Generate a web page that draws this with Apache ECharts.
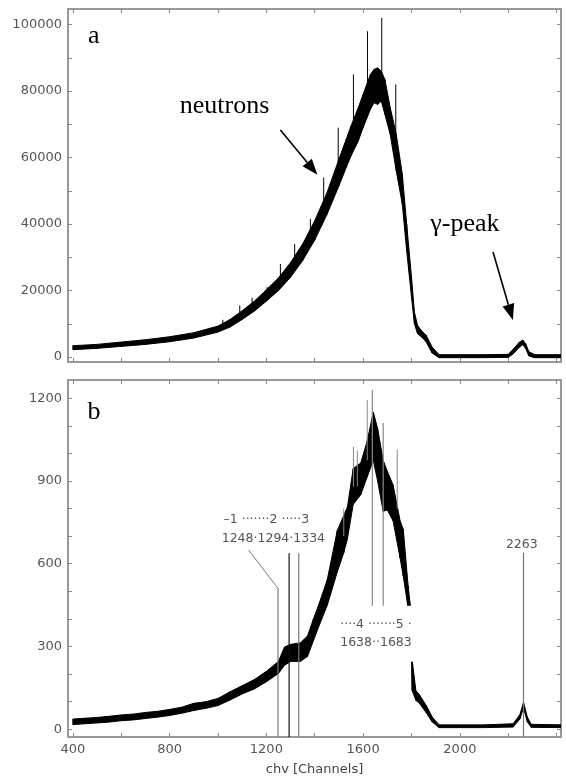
<!DOCTYPE html>
<html>
<head>
<meta charset="utf-8">
<script src="https://cdn.jsdelivr.net/npm/echarts@6/dist/echarts.min.js"></script>
<style>
html,body{margin:0;padding:0;background:#fff;}
#chart{width:566px;height:778px;}
</style>
</head>
<body>
<div id="chart"></div>
<script>
// channel axis (shared by both panels)
var xMin = 380, xMax = 2418;
var xTicks = [400,600,800,1000,1200,1400,1600,1800,2000,2200,2400];
var xLabels = [400,800,1200,1600,2000];

// panel a: counts, band read as lower / upper edge of the trace
var chA = [400,500,600,700,800,900,1000,1050,1100,1150,1200,1250,1300,1350,1400,1450,1500,1530,1550,1580,1600,1630,1645,1660,1675,1690,1712,1737,1762,1780,1800,1812,1825,1845,1860,1885,1914,2000,2100,2200,2220,2245,2260,2272,2285,2310,2418];
var loA = [2200,2600,3200,3800,4600,5700,7500,9000,11300,13800,16800,20000,24000,29000,35200,42800,51500,57000,60500,65000,69000,74500,76500,76000,77000,73000,67000,56000,46000,32000,18000,10000,7000,5800,4600,1200,-200,-200,-200,-100,900,2900,3700,2600,300,-200,-200];
var hiA = [3400,3800,4500,5200,6100,7300,9300,11300,13900,16800,20200,23800,28400,34000,41000,49300,59500,65500,69500,75000,79000,85000,86500,87000,86000,83500,75000,67000,55000,40000,24000,13500,9500,7600,6600,3000,700,700,700,800,2300,4400,5100,4000,1600,700,700];
// single-channel spikes: [channel, from, to]
var spikeA = [[1020,8500,11200],[1090,12500,15500],[1141,15500,17800],[1203,18500,21000],[1258,22500,28000],[1317,28000,34000],[1382,35000,41500],[1437,45000,54000],[1497,55000,69000],[1560,66000,85000],[1618,76000,98000],[1677,81000,102000],[1735,61000,82000]];
var yMinA = -1500, yMaxA = 104700;
var yTicksA = [0,10000,20000,30000,40000,50000,60000,70000,80000,90000,100000];
var yLabelsA = [0,20000,40000,60000,80000,100000];

// panel b: counts
var chB = [400,450,500,550,600,650,700,750,800,850,900,950,1000,1050,1100,1150,1200,1250,1275,1300,1340,1370,1394,1420,1452,1493,1520,1535,1559,1590,1617,1642,1660,1683,1700,1724,1753,1766,1786,1795,1803,1818,1832,1861,1886,1914,2000,2100,2220,2248,2263,2279,2295,2418];
var loB = [17,20,23,26,31,34,39,44,50,58,68,76,86,106,128,146,172,202,232,246,246,264,320,380,450,570,640,690,815,850,915,975,900,790,795,755,620,555,440,420,140,105,95,60,26,6,6,6,8,37,78,26,7,6];
var hiB = [37,40,43,47,52,55,61,65,72,80,94,100,112,136,158,180,210,246,298,308,313,338,398,460,543,720,775,805,945,965,1045,1150,1090,975,935,885,755,725,520,450,250,140,126,86,44,16,16,16,20,53,98,44,18,16];
var spikeB = [[1520,700,800],[1560,880,1024],[1576,880,1010],[1617,975,1194],[1741,800,1013]];
var yMinB = -28, yMaxB = 1266;
var yTicksB = [0,100,200,300,400,500,600,700,800,900,1000,1100,1200];
var yLabelsB = [0,300,600,900,1200];

// channel markers in panel b
var markCh = [1248,1294,1334,1638,1683,2263];
var markTop = [511,638,638,1230,1110,640];
var markBot = [-28,-28,-28,433,433,-28];
var markColor = ['#777','#111','#777','#888','#888','#777'];

var chart = echarts.init(document.getElementById('chart'));

function bandRows(ch, lo, hi) {
  var rows = [];
  for (var i = 0; i < ch.length - 1; i++) {
    rows.push([ch[i], lo[i], hi[i], ch[i+1], lo[i+1], hi[i+1]]);
  }
  return rows;
}

function band(ch, lo, hi, idx) {
  return {
    type: 'custom', xAxisIndex: idx * 2, yAxisIndex: idx * 2, clip: true, silent: true,
    data: bandRows(ch, lo, hi),
    encode: {x: [0, 3], y: [1, 2, 4, 5]},
    renderItem: function (params, api) {
      var a = api.coord([api.value(0), api.value(1)]);
      var b = api.coord([api.value(3), api.value(4)]);
      var c = api.coord([api.value(3), api.value(5)]);
      var d = api.coord([api.value(0), api.value(2)]);
      return {type: 'polygon', shape: {points: [a, b, c, d]},
        style: {fill: '#000', stroke: '#000', lineWidth: 1}};
    }
  };
}

function segs(rows, idx, colors, width) {
  return {
    type: 'custom', xAxisIndex: idx * 2, yAxisIndex: idx * 2, clip: true, silent: true,
    data: rows,
    encode: {x: [0], y: [1, 2]},
    renderItem: function (params, api) {
      var a = api.coord([api.value(0), api.value(1)]);
      var b = api.coord([api.value(0), api.value(2)]);
      return {type: 'line', shape: {x1: a[0], y1: a[1], x2: b[0], y2: b[1]},
        style: {stroke: colors[params.dataIndex % colors.length], lineWidth: width}};
    }
  };
}

function texts(idx, pts, strs, style) {
  return {
    type: 'custom', xAxisIndex: idx * 2, yAxisIndex: idx * 2, silent: true, z: 5,
    data: pts,
    renderItem: function (params, api) {
      var p = api.coord([api.value(0), api.value(1)]);
      var st = Object.assign({text: strs[params.dataIndex], align: 'center', verticalAlign: 'middle'}, style);
      return {type: 'text', x: p[0], y: p[1], style: st};
    }
  };
}

function arrows(idx, rows) {
  return {
    type: 'custom', xAxisIndex: idx * 2, yAxisIndex: idx * 2, silent: true,
    data: rows,
    renderItem: function (params, api) {
      var a = api.coord([api.value(0), api.value(1)]);
      var b = api.coord([api.value(2), api.value(3)]);
      var dx = b[0] - a[0], dy = b[1] - a[1];
      var len = Math.sqrt(dx * dx + dy * dy);
      var ux = dx / len, uy = dy / len;
      var hl = 16, hw = 6;
      var bx = b[0] - ux * hl, by = b[1] - uy * hl;
      return {type: 'group', children: [
        {type: 'line', shape: {x1: a[0], y1: a[1], x2: bx, y2: by}, style: {stroke: '#000', lineWidth: 1.6}},
        {type: 'polygon', shape: {points: [b, [bx - uy * hw, by + ux * hw], [bx + uy * hw, by - ux * hw]]}, style: {fill: '#000'}}
      ]};
    }
  };
}

function xAxis(grid, pos, withLabels) {
  return {
    type: 'value', gridIndex: grid, position: pos, min: xMin, max: xMax,
    axisLine: {show: true, onZero: false, lineStyle: {color: '#999', width: 2}},
    axisTick: {show: true, inside: true, length: 4, customValues: xTicks, lineStyle: {color: '#888'}},
    axisLabel: {show: withLabels, customValues: xLabels, margin: 6, color: '#555',
      fontFamily: 'DejaVu Sans', fontSize: 13, formatter: function (v) { return String(v); }},
    splitLine: {show: false},
    name: withLabels ? 'chv [Channels]' : '', nameLocation: 'middle', nameGap: 26,
    nameTextStyle: {color: '#444', fontFamily: 'DejaVu Sans', fontSize: 13}
  };
}

function yAxis(grid, pos, min, max, ticks, labels) {
  return {
    type: 'value', gridIndex: grid, position: pos, min: min, max: max,
    axisLine: {show: true, onZero: false, lineStyle: {color: '#999', width: 2}},
    axisTick: {show: true, inside: true, length: 4, customValues: ticks, lineStyle: {color: '#888'}},
    axisLabel: {show: pos === 'left', customValues: labels, margin: 6, color: '#555',
      fontFamily: 'DejaVu Sans', fontSize: 13, formatter: function (v) { return String(v); }},
    splitLine: {show: false}
  };
}

var markRows = markCh.map(function (c, i) { return [c, markBot[i], markTop[i]]; });
var serif = {font: '26px "Liberation Serif"', fill: '#000'};
var small = {font: '12.5px "DejaVu Sans"', fill: '#555'};

var option = {
  animation: false,
  backgroundColor: '#fff',
  grid: [
    {left: 68, right: 5, top: 9, height: 353},
    {left: 68, right: 5, top: 380, height: 357}
  ],
  xAxis: [xAxis(0, 'bottom', false), xAxis(0, 'top', false), xAxis(1, 'bottom', true), xAxis(1, 'top', false)],
  yAxis: [
    yAxis(0, 'left', yMinA, yMaxA, yTicksA, yLabelsA), yAxis(0, 'right', yMinA, yMaxA, yTicksA, yLabelsA),
    yAxis(1, 'left', yMinB, yMaxB, yTicksB, yLabelsB), yAxis(1, 'right', yMinB, yMaxB, yTicksB, yLabelsB)
  ],
  series: [
    band(chA, loA, hiA, 0),
    segs(spikeA, 0, ['#000'], 1),
    texts(0, [[487, 96400], [1027, 75600], [2021, 40000]], ['a', 'neutrons', 'γ-peak'], serif),
    arrows(0, [[1258, 68300, 1411, 54800], [2137, 31600, 2219, 11100]]),

    band(chB, loB, hiB, 1),
    segs(spikeB, 1, ['#888'], 1),
    segs(markRows, 1, markColor, 1.2),
    {
      type: 'custom', xAxisIndex: 2, yAxisIndex: 2, silent: true,
      data: [[1126, 650, 1248, 511]],
      renderItem: function (params, api) {
        var a = api.coord([api.value(0), api.value(1)]);
        var b = api.coord([api.value(2), api.value(3)]);
        return {type: 'line', shape: {x1: a[0], y1: a[1], x2: b[0], y2: b[1]}, style: {stroke: '#777', lineWidth: 1}};
      }
    },
    texts(1, [[487, 1150]], ['b'], serif),
    texts(1, [[1200, 759], [1229, 690], [2256, 668]],
      ['–1 ·······2 ·····3', '1248·1294·1334', '2263'], small),
    texts(1, [[1497, 346]], ['····4 ·······5 ·\n1638··1683'],
      Object.assign({align: 'left', lineHeight: 18, backgroundColor: '#fff', padding: [9, 6, 11, 2]}, small))
  ]
};
chart.setOption(option);
</script>
</body>
</html>
